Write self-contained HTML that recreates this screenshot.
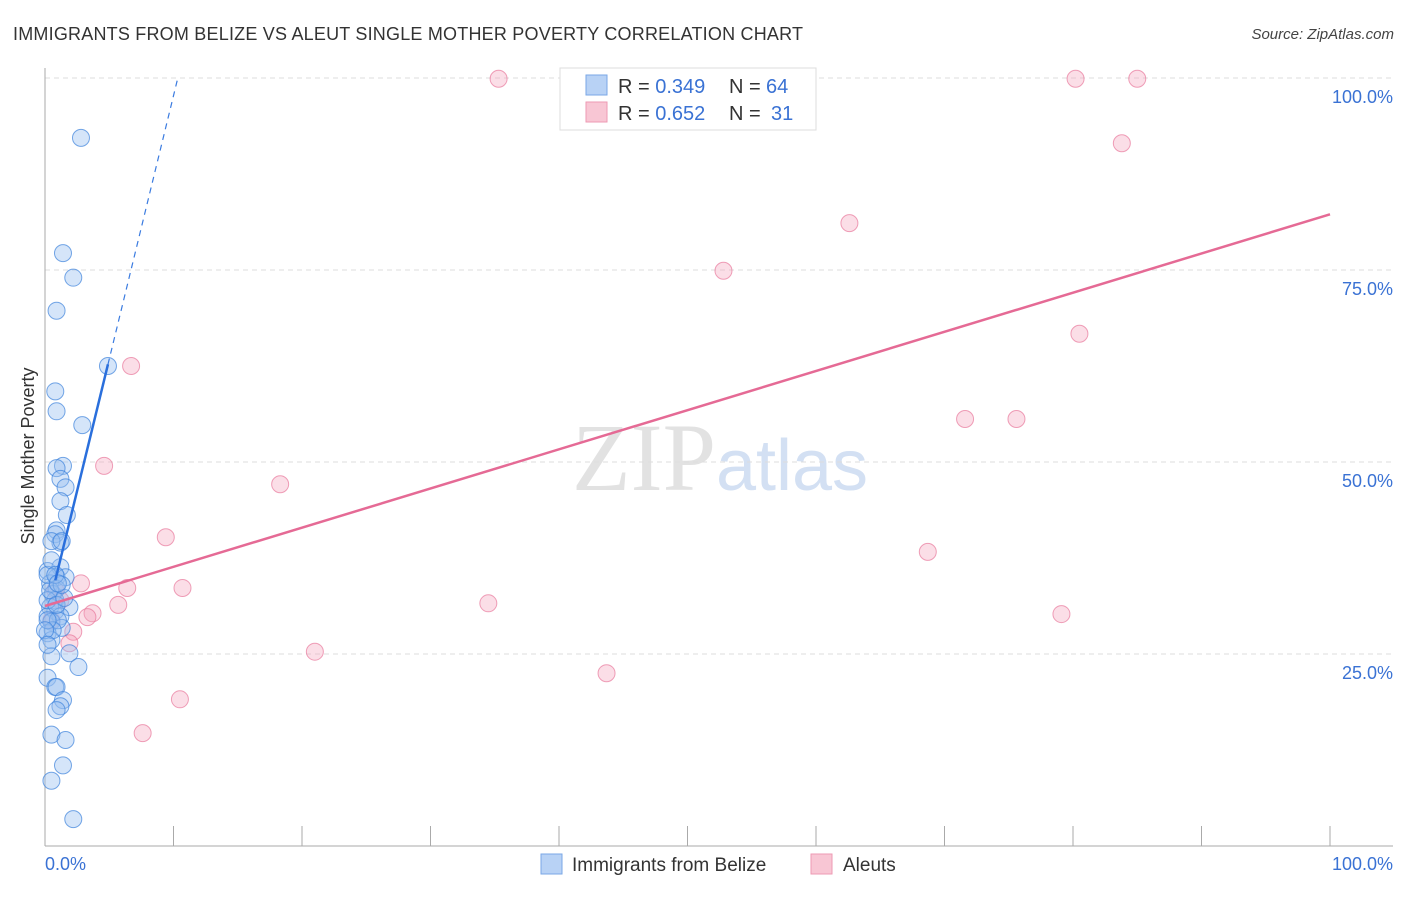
<!DOCTYPE html>
<html><head><meta charset="utf-8"><style>
html,body{margin:0;padding:0;background:#fff;}
body{width:1406px;height:892px;overflow:hidden;font-family:"Liberation Sans",sans-serif;}
</style></head><body>
<svg id="chart" width="1406" height="892" xmlns="http://www.w3.org/2000/svg" font-family="Liberation Sans, sans-serif">
<text x="13" y="40" font-size="18" fill="#333" textLength="790">IMMIGRANTS FROM BELIZE VS ALEUT SINGLE MOTHER POVERTY CORRELATION CHART</text>
<text x="1394" y="39" font-size="15" fill="#444" text-anchor="end" font-style="italic">Source: ZipAtlas.com</text>
<text x="720" y="490" font-size="96" text-anchor="middle" fill="#e2e2e2" font-family="Liberation Serif, serif">ZIP<tspan fill="#d3e0f3" font-family="Liberation Sans, sans-serif" font-size="72">atlas</tspan></text>
<text transform="translate(34,456) rotate(-90)" font-size="18" fill="#333" text-anchor="middle">Single Mother Poverty</text>
<g id="grid"></g>
<g id="axes"></g>
<g id="marks"></g>
<g>
<rect x="560" y="68" width="256" height="62" fill="#fff" stroke="#ddd"/>
<rect x="586" y="75" width="21" height="20" fill="#b8d2f5" stroke="#7aa7e6"/>
<rect x="586" y="102" width="21" height="20" fill="#f8c6d4" stroke="#ee9ab3"/>
<text x="618" y="93" font-size="20" fill="#333">R = <tspan fill="#3a72d4">0.349</tspan><tspan x="729">N = </tspan><tspan x="766" fill="#3a72d4">64</tspan></text>
<text x="618" y="120" font-size="20" fill="#333">R = <tspan fill="#3a72d4">0.652</tspan><tspan x="729">N = </tspan><tspan x="771" fill="#3a72d4">31</tspan></text>
</g>
<g>
<rect x="541" y="854" width="21" height="20" fill="#b8d2f5" stroke="#7aa7e6"/>
<text x="572" y="871" font-size="19" fill="#333">Immigrants from Belize</text>
<rect x="811" y="854" width="21" height="20" fill="#f8c6d4" stroke="#ee9ab3"/>
<text x="843" y="871" font-size="19" fill="#333">Aleuts</text>
</g>
</svg>
<script>
const blueX=[2.8,1.4,2.2,0.9,4.9,0.8,0.9,2.9,1.4,0.9,1.2,1.6,1.2,1.7,0.9,0.8,1.2,0.5,1.3,0.2,1.2,0.9,1.6,0.4,0.9,0.6,0.8,1.9,0.4,0.8,0.2,1.2,0.5,1.3,0.2,0.5,1.9,0.5,2.6,0.2,0.8,0.9,1.4,1.2,0.9,0.5,1.6,1.4,0.5,2.2,0.2,0.4,1.0,0.6,0.2,0.9,1.5,0.0,0.2,0.5,1.3,0.2,0.8,1.0];
const blueY=[92.2,77.2,74.0,69.7,62.5,59.2,56.6,54.8,49.5,49.2,47.8,46.7,44.9,43.1,41.1,40.6,39.5,39.7,39.7,35.8,36.3,35.0,35.0,34.2,33.5,32.8,32.0,31.1,31.1,30.6,29.9,29.9,29.2,28.4,27.7,26.8,25.1,24.7,23.3,21.9,20.7,20.7,19.0,18.2,17.7,14.5,13.8,10.5,8.5,3.5,32.0,33.3,29.4,28.1,29.4,31.4,32.3,28.1,35.3,37.2,34.0,26.2,35.3,34.2];
const pinkX=[35.3,80.2,85.0,83.8,62.6,52.8,80.5,6.7,71.6,75.6,4.6,18.3,9.4,68.7,2.8,6.4,10.7,34.5,5.7,3.7,3.3,79.1,2.2,1.9,21.0,43.7,10.5,7.6,0.8,1.2,0.5];
const pinkY=[99.9,99.9,99.9,91.5,81.1,74.9,66.7,62.5,55.6,55.6,49.5,47.1,40.2,38.3,34.2,33.6,33.6,31.6,31.4,30.3,29.8,30.2,27.9,26.4,25.3,22.5,19.1,14.7,33.3,32.0,29.4];
const yTicks=[25,50,75,100];
const xTickVals=[0,10,20,30,40,50,60,70,80,90,100];
const blueTrend=[29.1,6.86]; // intercept, slope
const pinkTrend=[31.25,0.51];
const NS='http://www.w3.org/2000/svg';
const X=v=>45+v*12.85, Y=v=>846-v*7.68;
function mk(tag,attrs,parent){const e=document.createElementNS(NS,tag);for(const k in attrs)e.setAttribute(k,attrs[k]);parent.appendChild(e);return e;}
const grid=document.getElementById('grid'),axes=document.getElementById('axes'),marks=document.getElementById('marks');
yTicks.forEach(t=>{
 const l=mk('line',{x1:45,x2:1393,y1:Y(t),y2:Y(t),stroke:'#ddd','stroke-dasharray':'5,4'},grid);
 
 
 const tx=mk('text',{x:1393,y:Y(t)+25,'font-size':18,fill:'#3a72d4','text-anchor':'end'},axes);
 tx.textContent=t.toFixed(1)+'%';
 
 
});
let a=mk('line',{x1:45,x2:45,y1:68,y2:846,stroke:'#aaa'},axes);


a=mk('line',{x1:45,x2:1393,y1:846,y2:846,stroke:'#aaa'},axes);


xTickVals.forEach(t=>{
 const l=mk('line',{x1:X(t),x2:X(t),y1:826,y2:846,stroke:'#aaa'},axes);
 
 
});
let t0=mk('text',{x:45,y:870,'font-size':18,fill:'#3a72d4'},axes);t0.textContent='0.0%';


let t1=mk('text',{x:1393,y:870,'font-size':18,fill:'#3a72d4','text-anchor':'end'},axes);t1.textContent='100.0%';


pinkX.forEach((x,i)=>{
 const c=mk('circle',{cx:X(x),cy:Y(pinkY[i]),r:8.5,fill:'rgba(244,160,185,0.35)',stroke:'rgba(232,120,155,0.7)','stroke-width':1},marks);
 
 
});
blueX.forEach((x,i)=>{
 const c=mk('circle',{cx:X(x),cy:Y(blueY[i]),r:8.5,fill:'rgba(150,190,240,0.4)',stroke:'rgba(60,130,220,0.7)','stroke-width':1},marks);
 
 
});
const bAt=x=>blueTrend[0]+blueTrend[1]*x;
const xEnd=(100-blueTrend[0])/blueTrend[1];
let tl=mk('line',{x1:X(4.9),y1:Y(bAt(4.9)),x2:X(xEnd),y2:Y(100),stroke:'#3a7be0','stroke-width':1.2,'stroke-dasharray':'6,5'},marks);


tl=mk('line',{x1:X(0.8),y1:Y(bAt(0.8)),x2:X(4.9),y2:Y(bAt(4.9)),stroke:'#2a6fdc','stroke-width':2.5},marks);


tl=mk('line',{x1:X(0),y1:Y(pinkTrend[0]),x2:X(100),y2:Y(pinkTrend[0]+pinkTrend[1]*100),stroke:'#e56a95','stroke-width':2.5},marks);


</script>
</body></html>
